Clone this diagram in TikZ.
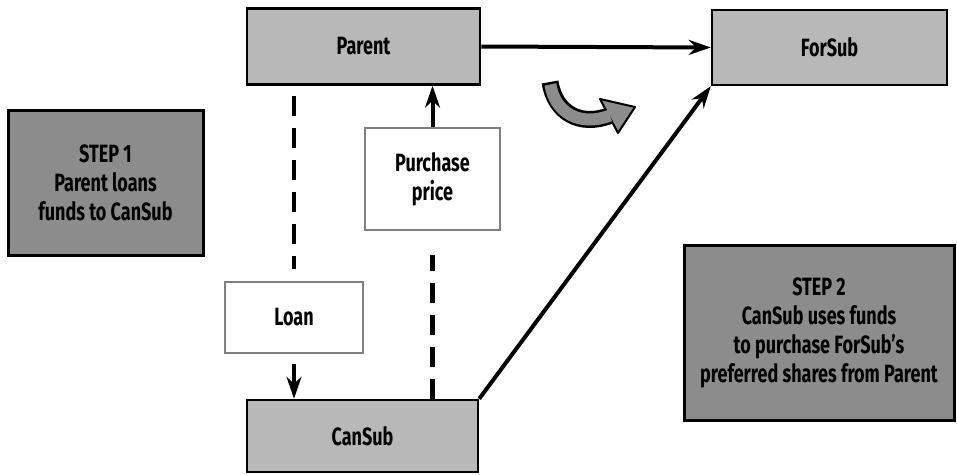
\documentclass[tikz,border=0pt]{standalone}
\usepackage{fontspec}
\setmainfont{Fira Sans}[FakeStretch=0.72]
\usetikzlibrary{arrows.meta}
\begin{document}
\begin{tikzpicture}[x=1pt,y=-1pt,
				company/.style={draw,line width=2.5pt,fill=black!28,minimum width=233pt,minimum height=76pt,font=\fontsize{25}{28}\selectfont\bfseries},
				flow/.style={draw=black!50,line width=1.5pt,fill=white,align=center,font=\fontsize{25}{29}\selectfont\bfseries},
				stepbox/.style={draw,line width=3pt,fill=black!45,align=center,font=\fontsize{25}{29}\selectfont\bfseries},
				move/.style={line width=4pt,-{Stealth[length=22pt,width=15pt]}},
				money/.style={line width=4.5pt,dash pattern=on 20pt off 12pt}]
\useasboundingbox (0,0) rectangle (957,474);
\node[company] (parent) at (363.5,46.5) {Parent};
\node[company,minimum width=235pt,minimum height=75pt] (forsub) at (829.5,47.5) {ForSub};
\node[company,minimum width=231pt,minimum height=72pt] (cansub) at (362.5,436) {CanSub};
\node[flow,minimum width=138pt,minimum height=71pt] (loan) at (294,317.5) {Loan};
\node[flow,minimum width=135pt,minimum height=102pt] (price) at (432.5,179) {Purchase\\price};
\node[stepbox,minimum width=195pt,minimum height=145pt] (stepone) at (105.5,182.5) {STEP 1\\Parent loans\\funds to CanSub};
\node[stepbox,minimum width=270pt,minimum height=175pt] (steptwo) at (819,332.5) {STEP 2\\CanSub uses funds\\to purchase ForSub's\\preferred shares from Parent};
\draw[move] (parent.east) -- (forsub.west);
\draw[move] (cansub.north east) -- (forsub.south west);
\draw[money,shorten <=10pt,shorten >=12pt] (loan.north |- parent.south) -- (loan.north);
\draw[move,shorten <=10pt] (loan.south) -- (loan.south |- cansub.north);
\draw[money,shorten >=24pt] (cansub.north -| price.south) -- (price.south);
\draw[move] (price.north) -- (price.north |- parent.south);
\draw[line width=17pt] (550,82) .. controls (555,113) and (580,127) .. (610,115.5);
\filldraw[fill=black!45,line width=2pt,line join=round] (600,99) -- (635,107) -- (618,133) -- cycle;
\draw[line width=12pt,black!45,shorten <=2.5pt] (550,82) .. controls (555,113) and (580,127) .. (610,115.5);
\end{tikzpicture}
\end{document}
